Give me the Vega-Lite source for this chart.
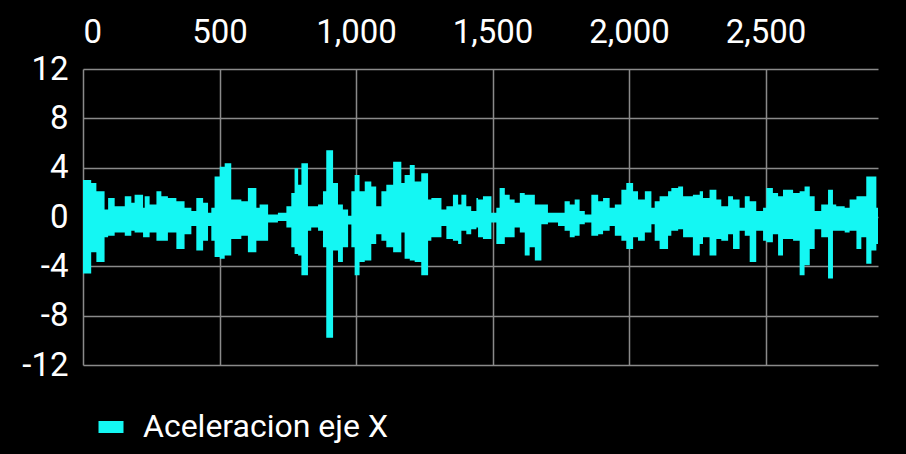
{
  "$schema": "https://vega.github.io/schema/vega-lite/v6.json",
  "width": 795,
  "height": 296,
  "autosize": {"type": "none"},
  "padding": {"left": 83, "top": 69, "right": 28, "bottom": 89},
  "background": "#000000",
  "config": {
    "view": {"stroke": null},
    "font": "Roboto",
    "legend": {
      "orient": "none",
      "legendX": 12,
      "legendY": 342,
      "padding": 0,
      "labelFont": "Roboto",
      "labelFontSize": 32,
      "labelColor": "#ffffff",
      "labelOffset": 16,
      "labelLimit": 0,
      "symbolType": "M-1,-0.48H1V0.48H-1Z",
      "symbolSize": 625,
      "symbolStrokeWidth": 0
    }
  },
  "data": {
    "values": [
      {"x": 0, "hi": 3.01, "lo": -4.59},
      {"x": 30, "hi": 2.75, "lo": -2.85},
      {"x": 49, "hi": 2.08, "lo": -3.65},
      {"x": 79, "hi": 0.61, "lo": -1.65},
      {"x": 92, "hi": 1.55, "lo": -1.52},
      {"x": 116, "hi": 0.88, "lo": -1.25},
      {"x": 153, "hi": 1.68, "lo": -1.52},
      {"x": 177, "hi": 1.15, "lo": -1.12},
      {"x": 189, "hi": 1.81, "lo": -1.25},
      {"x": 220, "hi": 0.75, "lo": -1.65},
      {"x": 226, "hi": 1.68, "lo": -1.65},
      {"x": 244, "hi": 1.01, "lo": -1.25},
      {"x": 269, "hi": 2.08, "lo": -1.92},
      {"x": 287, "hi": 1.68, "lo": -1.92},
      {"x": 311, "hi": 1.55, "lo": -1.25},
      {"x": 342, "hi": 1.28, "lo": -2.59},
      {"x": 372, "hi": 0.75, "lo": -1.39},
      {"x": 397, "hi": 0.48, "lo": -0.72},
      {"x": 415, "hi": 1.55, "lo": -2.72},
      {"x": 440, "hi": 1.15, "lo": -1.92},
      {"x": 458, "hi": 0.35, "lo": -0.72},
      {"x": 470, "hi": 0.75, "lo": -1.92},
      {"x": 482, "hi": 3.28, "lo": -3.25},
      {"x": 501, "hi": 4.08, "lo": -3.39},
      {"x": 519, "hi": 4.35, "lo": -3.12},
      {"x": 543, "hi": 1.41, "lo": -1.79},
      {"x": 580, "hi": 1.28, "lo": -1.52},
      {"x": 604, "hi": 2.35, "lo": -2.85},
      {"x": 635, "hi": 0.75, "lo": -1.92},
      {"x": 647, "hi": 1.01, "lo": -1.92},
      {"x": 678, "hi": 0.21, "lo": -0.45},
      {"x": 714, "hi": 0.35, "lo": -0.32},
      {"x": 745, "hi": 0.88, "lo": -0.85},
      {"x": 763, "hi": 1.95, "lo": -2.45},
      {"x": 775, "hi": 3.95, "lo": -2.99},
      {"x": 788, "hi": 2.61, "lo": -3.12},
      {"x": 800, "hi": 4.35, "lo": -4.72},
      {"x": 824, "hi": 0.88, "lo": -1.12},
      {"x": 836, "hi": 0.88, "lo": -0.85},
      {"x": 861, "hi": 1.01, "lo": -1.12},
      {"x": 879, "hi": 2.08, "lo": -2.45},
      {"x": 891, "hi": 5.41, "lo": -9.79},
      {"x": 916, "hi": 2.75, "lo": -2.72},
      {"x": 934, "hi": 1.01, "lo": -3.65},
      {"x": 952, "hi": 0.61, "lo": -2.45},
      {"x": 971, "hi": 0.1, "lo": -0.6},
      {"x": 983, "hi": 2.08, "lo": -2.45},
      {"x": 995, "hi": 3.41, "lo": -4.72},
      {"x": 1013, "hi": 2.08, "lo": -3.65},
      {"x": 1032, "hi": 2.88, "lo": -3.52},
      {"x": 1056, "hi": 2.48, "lo": -2.19},
      {"x": 1074, "hi": 0.88, "lo": -1.39},
      {"x": 1093, "hi": 2.08, "lo": -1.92},
      {"x": 1111, "hi": 2.61, "lo": -2.45},
      {"x": 1136, "hi": 4.48, "lo": -2.85},
      {"x": 1166, "hi": 2.75, "lo": -1.25},
      {"x": 1178, "hi": 3.41, "lo": -3.39},
      {"x": 1197, "hi": 4.21, "lo": -3.52},
      {"x": 1215, "hi": 2.88, "lo": -3.65},
      {"x": 1239, "hi": 3.55, "lo": -4.72},
      {"x": 1264, "hi": 1.41, "lo": -1.92},
      {"x": 1276, "hi": 1.55, "lo": -1.65},
      {"x": 1313, "hi": 0.61, "lo": -0.72},
      {"x": 1331, "hi": 0.88, "lo": -1.79},
      {"x": 1355, "hi": 1.81, "lo": -1.92},
      {"x": 1374, "hi": 1.01, "lo": -2.19},
      {"x": 1386, "hi": 1.81, "lo": -1.12},
      {"x": 1404, "hi": 0.88, "lo": -1.39},
      {"x": 1422, "hi": 0.48, "lo": -0.99},
      {"x": 1441, "hi": 1.55, "lo": -0.85},
      {"x": 1447, "hi": 1.41, "lo": -1.65},
      {"x": 1465, "hi": 1.68, "lo": -1.79},
      {"x": 1496, "hi": 0.35, "lo": -0.45},
      {"x": 1514, "hi": 0.75, "lo": -2.19},
      {"x": 1526, "hi": 2.35, "lo": -2.19},
      {"x": 1545, "hi": 1.81, "lo": -1.65},
      {"x": 1563, "hi": 1.41, "lo": -1.65},
      {"x": 1581, "hi": 1.15, "lo": -0.85},
      {"x": 1600, "hi": 1.95, "lo": -1.25},
      {"x": 1618, "hi": 1.81, "lo": -3.12},
      {"x": 1636, "hi": 1.81, "lo": -2.45},
      {"x": 1655, "hi": 1.01, "lo": -3.52},
      {"x": 1679, "hi": 1.01, "lo": -0.59},
      {"x": 1703, "hi": 0.35, "lo": -0.45},
      {"x": 1740, "hi": 0.35, "lo": -0.72},
      {"x": 1764, "hi": 1.28, "lo": -1.12},
      {"x": 1783, "hi": 1.01, "lo": -1.65},
      {"x": 1801, "hi": 1.41, "lo": -1.52},
      {"x": 1819, "hi": 0.48, "lo": -0.59},
      {"x": 1838, "hi": 0.21, "lo": -0.45},
      {"x": 1862, "hi": 1.81, "lo": -1.52},
      {"x": 1887, "hi": 1.28, "lo": -1.39},
      {"x": 1905, "hi": 1.55, "lo": -1.12},
      {"x": 1929, "hi": 0.75, "lo": -0.72},
      {"x": 1948, "hi": 1.01, "lo": -1.52},
      {"x": 1972, "hi": 2.21, "lo": -1.92},
      {"x": 1990, "hi": 2.75, "lo": -2.59},
      {"x": 2015, "hi": 2.08, "lo": -1.65},
      {"x": 2033, "hi": 1.41, "lo": -1.92},
      {"x": 2058, "hi": 2.08, "lo": -1.25},
      {"x": 2082, "hi": 0.75, "lo": -0.59},
      {"x": 2094, "hi": 1.28, "lo": -1.92},
      {"x": 2112, "hi": 1.68, "lo": -2.59},
      {"x": 2143, "hi": 2.08, "lo": -1.52},
      {"x": 2155, "hi": 2.35, "lo": -1.12},
      {"x": 2180, "hi": 2.48, "lo": -0.99},
      {"x": 2198, "hi": 1.68, "lo": -1.65},
      {"x": 2234, "hi": 1.81, "lo": -3.12},
      {"x": 2259, "hi": 2.08, "lo": -2.19},
      {"x": 2271, "hi": 1.55, "lo": -1.65},
      {"x": 2295, "hi": 2.21, "lo": -3.12},
      {"x": 2320, "hi": 1.41, "lo": -1.79},
      {"x": 2338, "hi": 0.88, "lo": -1.92},
      {"x": 2363, "hi": 1.68, "lo": -1.39},
      {"x": 2381, "hi": 1.41, "lo": -2.59},
      {"x": 2405, "hi": 0.75, "lo": -1.12},
      {"x": 2424, "hi": 1.68, "lo": -1.52},
      {"x": 2442, "hi": 1.28, "lo": -3.65},
      {"x": 2466, "hi": 0.48, "lo": -1.12},
      {"x": 2491, "hi": 0.75, "lo": -1.92},
      {"x": 2503, "hi": 2.35, "lo": -2.05},
      {"x": 2527, "hi": 1.95, "lo": -1.39},
      {"x": 2546, "hi": 1.68, "lo": -3.12},
      {"x": 2564, "hi": 2.21, "lo": -1.79},
      {"x": 2601, "hi": 1.95, "lo": -1.92},
      {"x": 2625, "hi": 2.08, "lo": -4.72},
      {"x": 2643, "hi": 2.48, "lo": -3.92},
      {"x": 2662, "hi": 1.68, "lo": -2.59},
      {"x": 2680, "hi": 0.48, "lo": -0.99},
      {"x": 2704, "hi": 1.01, "lo": -1.65},
      {"x": 2729, "hi": 2.21, "lo": -4.99},
      {"x": 2747, "hi": 1.01, "lo": -1.12},
      {"x": 2759, "hi": 0.88, "lo": -1.12},
      {"x": 2790, "hi": 0.75, "lo": -1.25},
      {"x": 2808, "hi": 1.41, "lo": -1.12},
      {"x": 2833, "hi": 1.68, "lo": -2.59},
      {"x": 2851, "hi": 1.68, "lo": -1.65},
      {"x": 2869, "hi": 3.28, "lo": -3.79},
      {"x": 2888, "hi": 3.28, "lo": -2.72},
      {"x": 2906, "hi": 0.75, "lo": -2.19},
      {"x": 2912, "hi": 0.75, "lo": -2.19}
    ]
  },
  "mark": {"type": "area", "interpolate": "step-after"},
  "encoding": {
    "x": {
      "field": "x",
      "type": "quantitative",
      "scale": {"domain": [0, 2912], "nice": false, "zero": false},
      "axis": {
        "orient": "top",
        "title": null,
        "values": [0, 500, 1000, 1500, 2000, 2500],
        "format": ",d",
        "grid": true,
        "gridColor": "#8a8a8a",
        "gridWidth": 1.5,
        "domain": false,
        "ticks": false,
        "labelFont": "Roboto",
        "labelFontSize": 33,
        "labelColor": "#ffffff",
        "labelPadding": 20,
        "labelFlush": true
      }
    },
    "y": {
      "field": "hi",
      "type": "quantitative",
      "scale": {"domain": [-12, 12], "nice": false},
      "axis": {
        "title": null,
        "values": [-12, -8, -4, 0, 4, 8, 12],
        "labelExpr": "'' + datum.value",
        "grid": true,
        "gridColor": "#8a8a8a",
        "gridWidth": 1.5,
        "domain": false,
        "ticks": false,
        "labelFont": "Roboto",
        "labelFontSize": 33,
        "labelColor": "#ffffff",
        "labelPadding": 15
      }
    },
    "y2": {"field": "lo"},
    "color": {
      "datum": "Aceleracion eje X",
      "scale": {"range": ["#14f7f3"]},
      "legend": {"title": null}
    }
  }
}
